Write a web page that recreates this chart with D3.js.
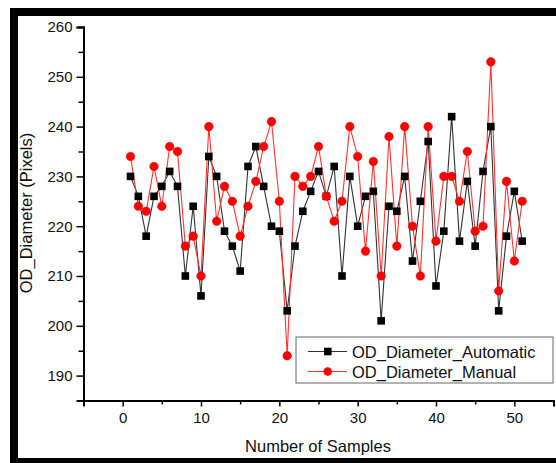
<!DOCTYPE html>
<html>
<head>
<meta charset="utf-8">
<script src="https://cdn.jsdelivr.net/npm/d3@7"></script>
<style>
  body { margin: 0; background: #fff; }
  text { font-family: Arial, "Liberation Sans", sans-serif; }
</style>
</head>
<body>
<svg id="display"></svg>
<script>
// sample numbers 1..51
const samples = d3.range(1, 52)
const automatic = [230, 226, 218, 226, 228, 231, 228, 210, 224, 206,
  234, 230, 219, 216, 211, 232, 236, 228, 220, 219,
  203, 216, 223, 227, 231, 226, 232, 210, 230, 220,
  226, 227, 201, 224, 223, 230, 213, 225, 237, 208,
  219, 242, 217, 229, 216, 231, 240, 203, 218, 227, 217]
const manual = [234, 224, 223, 232, 224, 236, 235, 216, 218, 210,
  240, 221, 228, 225, 218, 224, 229, 236, 241, 225,
  194, 230, 228, 230, 236, 226, 221, 225, 240, 234,
  215, 233, 210, 238, 216, 240, 220, 210, 240, 217,
  230, 230, 225, 235, 219, 220, 253, 207, 229, 213, 225]
const xTicks = [0, 10, 20, 30, 40, 50]
const yTicks = [190, 200, 210, 220, 230, 240, 250, 260]
const seriesNames = ['OD_Diameter_Automatic', 'OD_Diameter_Manual']

let svg = d3.select('#display')
width = 556
height = 463
svg.attr('width', width).attr('height', height)

// black frame
svg.append('rect').attr('x', 10).attr('y', 8).attr('width', 546).attr('height', 8).attr('fill', '#000')
svg.append('rect').attr('x', 10).attr('y', 8).attr('width', 8).attr('height', 455).attr('fill', '#000')
svg.append('rect').attr('x', 10).attr('y', 458).attr('width', 546).attr('height', 5).attr('fill', '#000')

const xScale = d3.scaleLinear().domain([-5, 55]).range([83.5, 553.5])
const yScale = d3.scaleLinear().domain([185, 260]).range([400.5, 27])

// minor ticks
const xMinor = d3.axisBottom(xScale).tickValues(d3.range(-5, 56, 10)).tickSize(4).tickFormat('')
const yMinor = d3.axisLeft(yScale).tickValues(d3.range(185, 260, 10)).tickSize(5).tickFormat('')

const xAxis = d3.axisBottom(xScale).tickValues(xTicks).tickSize(6).tickPadding(6)
const yAxis = d3.axisLeft(yScale).tickValues(yTicks).tickSize(7).tickPadding(4)

function styleAxis(g) {
  g.select('.domain').attr('stroke', '#000').attr('stroke-width', 2)
  g.selectAll('.tick line').attr('stroke', '#000').attr('stroke-width', 1.5)
  g.selectAll('.tick text').attr('font-size', 15).attr('fill', '#111')
    .attr('font-family', 'Arial, "Liberation Sans", sans-serif')
}

svg.append('g').attr('transform', 'translate(0,' + yScale(185) + ')').call(xMinor).call(styleAxis)
svg.append('g').attr('transform', 'translate(' + xScale(-5) + ',0)').call(yMinor).call(styleAxis)
svg.append('g').attr('transform', 'translate(0,' + yScale(185) + ')').call(xAxis).call(styleAxis)
svg.append('g').attr('transform', 'translate(' + xScale(-5) + ',0)').call(yAxis).call(styleAxis)

// axis titles
svg.append('text').attr('x', 318).attr('y', 452).attr('text-anchor', 'middle')
  .attr('font-size', 16.5).attr('fill', '#111').text('Number of Samples')
svg.append('text').attr('transform', 'translate(32,213) rotate(-90)').attr('text-anchor', 'middle')
  .attr('font-size', 16.5).attr('fill', '#111').text('OD_Diameter (Pixels)')

const line = d3.line().x((d, i) => xScale(samples[i])).y(d => yScale(d))

svg.append('path').datum(automatic).attr('d', line)
  .attr('fill', 'none').attr('stroke', '#333').attr('stroke-width', 1.1)
svg.append('path').datum(manual).attr('d', line)
  .attr('fill', 'none').attr('stroke', '#f33').attr('stroke-width', 1.1)

svg.selectAll('rect.auto').data(automatic).enter().append('rect').attr('class', 'auto')
  .attr('x', (d, i) => xScale(samples[i]) - 3.8)
  .attr('y', d => yScale(d) - 3.8)
  .attr('width', 7.6).attr('height', 7.6).attr('fill', '#000')

svg.selectAll('circle.man').data(manual).enter().append('circle').attr('class', 'man')
  .attr('cx', (d, i) => xScale(samples[i]))
  .attr('cy', d => yScale(d))
  .attr('r', 4.3).attr('fill', '#f00').attr('stroke', '#d00').attr('stroke-width', 0.5)

// legend
let legend = svg.append('g')
legend.append('rect').attr('x', 296).attr('y', 337).attr('width', 257).attr('height', 46)
  .attr('fill', '#fff').attr('stroke', '#666').attr('stroke-width', 1)
const legY = [351.5, 371.5]
seriesNames.forEach((name, i) => {
  legend.append('line').attr('x1', 308).attr('x2', 347).attr('y1', legY[i]).attr('y2', legY[i])
    .attr('stroke', i === 0 ? '#333' : '#f33').attr('stroke-width', 1.1)
  if (i === 0) {
    legend.append('rect').attr('x', 324).attr('y', legY[i] - 3.8).attr('width', 7.6).attr('height', 7.6).attr('fill', '#000')
  } else {
    legend.append('circle').attr('cx', 327.7).attr('cy', legY[i]).attr('r', 4.3).attr('fill', '#f00')
  }
  legend.append('text').attr('x', 352).attr('y', legY[i] + 6).attr('font-size', 16.5)
    .attr('fill', '#111').text(name)
})
</script>
</body>
</html>
